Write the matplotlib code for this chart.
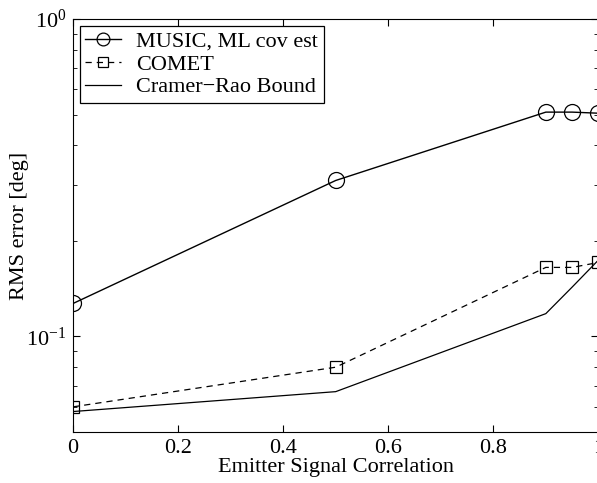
import matplotlib
matplotlib.use('Agg')
import matplotlib.pyplot as plt
from matplotlib.ticker import LogLocator, NullFormatter

plt.rcParams['font.family'] = ['Liberation Serif', 'DejaVu Serif']
plt.rcParams['mathtext.fontset'] = 'stix'

corr = [0, 0.5, 0.9, 0.95, 1.0]
music = [0.127, 0.31, 0.509, 0.509, 0.505]
comet = [0.060, 0.080, 0.165, 0.165, 0.171]
crb = [0.058, 0.067, 0.118, 0.143, 0.174]

fig = plt.figure(figsize=(5.97, 4.83), dpi=100)
ax = fig.add_axes([0.1223, 0.1056, 0.8800, 0.855])

ax.semilogy(corr, music, '-', color='black', lw=1, marker='o', ms=11.5,
            mfc='none', mec='black', mew=0.9, label='MUSIC, ML cov est')
ax.semilogy(corr, comet, '--', color='black', lw=0.9, marker='s', ms=9,
            mfc='none', mec='black', mew=0.9, dashes=(5, 4), label='COMET')
ax.semilogy(corr, crb, '-', color='black', lw=0.9, label='Cramer\u2212Rao Bound')

ax.set_xlim(0, 1)
ax.set_ylim(0.05, 1)
ax.set_xticks([0, 0.2, 0.4, 0.6, 0.8, 1])
ax.set_xticklabels(['0', '0.2', '0.4', '0.6', '0.8', '1'])
ax.yaxis.set_major_locator(LogLocator(base=10, numticks=5))
ax.yaxis.set_minor_locator(LogLocator(base=10, subs=range(2, 10), numticks=20))
ax.yaxis.set_minor_formatter(NullFormatter())
ax.tick_params(which='both', direction='in', top=True, right=True, labelsize=16)
ax.tick_params(axis='x', pad=5)
ax.tick_params(axis='y', pad=5)
ax.tick_params(which='major', length=5)
ax.tick_params(which='minor', length=3)

ax.set_xlabel('Emitter Signal Correlation', fontsize=16, va='center')
ax.xaxis.set_label_coords(0.5, -0.085)
ax.set_ylabel('RMS error [deg]', fontsize=16, va='center')
ax.yaxis.set_label_coords(-0.101, 0.5)

leg = ax.legend(loc='upper left', fontsize=16, fancybox=False, framealpha=1,
                edgecolor='black', borderpad=0.25, handlelength=1.6,
                handletextpad=0.7, markerscale=0.8,
                labelspacing=0.1, borderaxespad=0.3)
leg.get_frame().set_linewidth(0.9)

fig.savefig('out.png', dpi=100)
plt.close(fig)
